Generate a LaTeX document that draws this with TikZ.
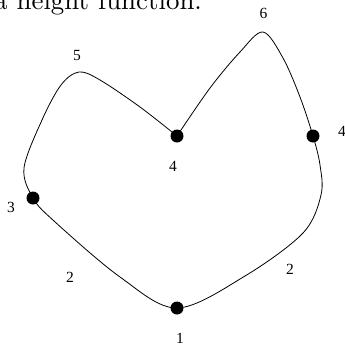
\documentclass[tikz,border=0pt]{standalone}
\usepackage{fontspec}
\newfontfamily\lblfont{Liberation Serif}
\begin{document}
\begin{tikzpicture}[x=1bp,y=-1bp,
  dot/.style={circle,fill=black,inner sep=0pt,minimum size=13bp},
  lbl/.style={inner sep=0pt,font=\lblfont\fontsize{15.5bp}{18bp}\selectfont},
  curve/.style={line width=0.8bp,black}]
\useasboundingbox (0,0) rectangle (345,346);
% caption
\node[anchor=base west,inner sep=0pt] (cap) at (-6,9) {\scalebox{2.7}{a height function.}};
% points of the curve
\coordinate (m) at (177,136);
\coordinate (p6) at (263,32);
\coordinate (p5) at (79,72);
\coordinate (r) at (313,136);
\coordinate (b) at (177,308);
\coordinate (l) at (33,198);
\draw[curve] plot[smooth,tension=0.55] coordinates {
  (m) (210,88) (240,52) (p6) (283,58) (300,97) (r) (320,165) (321,195)
  (303,233) (245,276) (b) (120,277) (54,221) (l) (24,168) (42,120) (61,85)
  (p5) (100,80) (140,107) (m)};
% dots
\node[dot] (dm) at (m) {};
\node[dot] (dr) at (r) {};
\node[dot] (db) at (b) {};
\node[dot] (dl) at (l) {};
% labels
\node[lbl] (l6) at (263.5,13) {6};
\node[lbl] (l5) at (77,55.5) {5};
\node[lbl] (l4m) at (173,166) {4};
\node[lbl] (l4r) at (342,131) {4};
\node[lbl] (l3) at (11,207) {3};
\node[lbl] (l2a) at (70,277) {2};
\node[lbl] (l2b) at (290,269) {2};
\node[lbl] (l1) at (180,338) {1};
\end{tikzpicture}
\end{document}
